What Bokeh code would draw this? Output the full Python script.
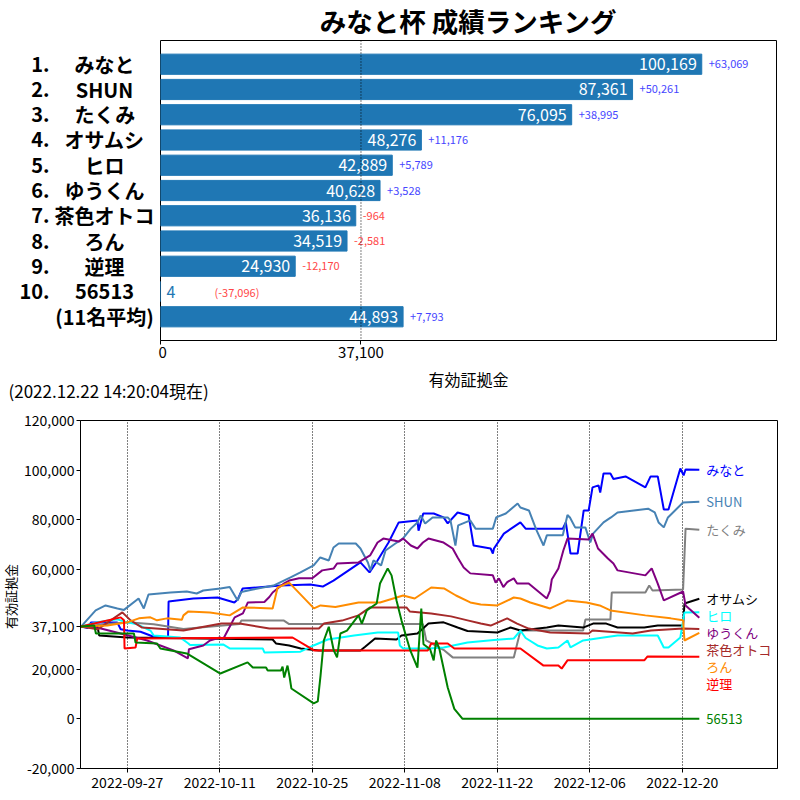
import math
import pandas as pd
from datetime import datetime
from bokeh.plotting import figure
from bokeh.models import (Range1d, FixedTicker, NumeralTickFormatter, DatetimeTickFormatter,
                          ColumnDataSource, Span)
from bokeh.layouts import column, row
from bokeh.embed import file_html
from bokeh.resources import INLINE
from bokeh.core.properties import value

FONT = "Noto Sans CJK JP"
TITLE = "みなと杯 成績ランキング"
STAMP = "(2022.12.22 14:20:04現在)"
AXIS_LABEL = "有効証拠金"
BASE = 37100

# ---------------- ranking (top chart) ----------------
ranks = ["1.", "2.", "3.", "4.", "5.", "6.", "7.", "8.", "9.", "10.", ""]
names = ["みなと", "SHUN", "たくみ", "オサムシ", "ヒロ", "ゆうくん", "茶色オトコ", "ろん", "逆理", "56513", "(11名平均)"]
balances = [100169, 87361, 76095, 48276, 42889, 40628, 36136, 34519, 24930, 4, 44893]
deltas = [63069, 50261, 38995, 11176, 5789, 3528, -964, -2581, -12170, -37096, 7793]

# ---------------- history (bottom chart) ----------------
MINATO = [("09-20 00",37100),("09-21 00",36500),("09-21 12",38700),("09-25 12",38700),("09-26 00",36000),("09-27 00",35500),("09-29 00",35000),("10-01 00",33000),("10-03 04",32800),("10-03 06",47200),("10-07 00",48400),("10-10 16",48800),("10-13 05",46800),("10-13 17",48000),("10-14 11",52400),("10-20 05",53600),("10-24 17",54000),("10-26 14",53200),("10-28 05",55600),("11-01 07",62900),("11-02 16",58900),("11-03 21",63700),("11-05 13",70900),("11-07 02",79000),("11-09 22",79800),("11-10 02",75700),("11-10 19",82600),("11-12 09",82600),("11-13 21",81000),("11-14 12",78600),("11-16 00",83000),("11-17 16",81800),("11-18 10",69700),("11-21 00",68500),("11-21 08",66500),("11-21 12",68500),("11-23 00",74500),("11-25 12",79000),("11-26 07",76500),("12-01 22",76500),("12-02 09",79000),("12-03 02",66500),("12-04 04",66500),("12-05 02",83800),("12-05 20",83800),("12-06 10",93100),("12-07 08",93900),("12-07 14",91000),("12-08 02",98700),("12-09 03",98700),("12-09 14",96500),("12-11 10",97500),("12-14 10",93100),("12-15 05",97500),("12-16 07",97500),("12-17 05",84200),("12-17 22",84200),("12-19 17",100700),("12-20 05",97900),("12-20 12",100300),("12-22 14",100169)]
SHUN = [("09-20 00",37100),("09-22 05",43600),("09-23 17",45600),("09-25 12",44400),("09-26 12",43800),("09-28 17",48400),("09-29 12",44400),("09-30 05",50000),("10-03 13",50800),("10-06 00",51200),("10-07 12",50400),("10-08 12",51600),("10-11 02",52400),("10-12 12",53000),("10-13 17",47600),("10-14 06",51000),("10-16 00",52000),("10-19 03",53600),("10-21 17",56900),("10-23 05",58900),("10-25 05",61700),("10-26 05",64900),("10-27 12",63700),("10-28 05",68900),("10-29 00",70500),("10-31 14",70500),("11-01 07",68500),("11-02 10",62900),("11-02 19",59700),("11-03 06",63700),("11-04 10",61700),("11-05 02",67700),("11-06 14",70500),("11-07 17",72500),("11-08 22",76500),("11-09 22",79000),("11-10 10",81800),("11-11 02",78600),("11-12 05",81000),("11-14 12",81000),("11-14 22",79800),("11-15 16",69700),("11-16 02",77800),("11-17 22",79800),("11-18 17",76500),("11-21 08",76500),("11-21 20",81000),("11-23 07",82600),("11-25 02",86600),("11-25 12",85000),("11-26 19",83800),("11-27 22",76000),("11-29 00",69700),("11-29 12",73800),("12-01 22",73800),("12-02 15",82000),("12-03 00",81000),("12-03 19",77000),("12-05 08",77000),("12-06 02",70900),("12-06 12",74500),("12-08 02",79000),("12-09 05",81000),("12-10 05",83000),("12-14 20",84500),("12-15 20",83000),("12-16 10",79000),("12-17 05",77000),("12-17 20",81000),("12-20 03",87000),("12-22 14",87361)]
TAKUMI = [("09-20 00",37100),("09-23 00",37800),("09-27 00",38800),("10-01 00",38000),("10-05 12",36100),("10-14 00",38100),("10-14 06",39500),("10-20 17",39500),("10-21 12",38100),("11-10 18",38100),("11-11 06",31500),("11-14 00",27500),("11-15 06",24700),("11-24 12",24700),("11-25 06",32700),("11-25 12",35500),("12-05 00",35500),("12-05 08",39900),("12-09 03",39900),("12-09 08",50800),("12-14 10",50800),("12-15 00",53600),("12-15 12",51600),("12-20 03",52000),("12-20 12",76500),("12-22 14",76095)]
OSAMUSHI = [("09-20 00",37100),("09-22 12",37000),("09-22 18",33500),("09-27 00",32700),("10-19 00",31900),("10-19 12",30300),("10-21 12",29500),("10-23 06",28300),("10-26 00",27500),("11-01 07",27500),("11-02 00",29000),("11-03 12",32300),("11-06 18",31900),("11-07 12",33500),("11-09 22",34300),("11-11 14",38300),("11-13 21",38800),("11-16 00",36700),("11-17 12",35300),("11-22 00",34700),("11-24 00",36700),("11-25 12",35500),("11-29 12",36700),("12-01 06",37500),("12-05 00",36700),("12-06 12",38300),("12-08 12",38300),("12-10 05",36700),("12-14 06",36700),("12-16 07",37500),("12-20 03",37500),("12-20 08",46400),("12-22 14",48276)]
HIRO = [("09-20 00",37100),("09-22 12",38800),("09-25 12",40000),("09-27 00",38800),("09-28 12",38000),("09-30 12",35500),("10-01 00",33500),("10-05 00",32700),("10-06 06",30300),("10-06 12",29700),("10-11 12",29900),("10-12 12",28300),("10-17 12",28300),("10-17 18",26700),("10-23 05",27000),("10-25 05",29500),("10-27 08",31900),("10-31 08",33500),("11-03 22",34700),("11-07 00",34700),("11-07 06",29500),("11-07 18",28300),("11-11 14",28300),("11-13 21",28700),("11-17 12",30700),("11-21 12",31700),("11-24 12",32300),("11-25 12",35500),("11-26 07",32500),("11-28 02",29500),("11-29 12",28300),("12-01 06",28700),("12-02 15",31500),("12-03 02",28700),("12-05 00",31500),("12-08 02",32700),("12-10 05",33500),("12-16 07",33500),("12-17 05",28700),("12-17 22",28700),("12-19 17",32700),("12-20 08",42800),("12-22 14",42889)]
YUUKUN = [("09-20 00",37100),("09-23 00",36300),("09-26 00",34300),("09-30 00",31500),("10-02 00",29500),("10-04 00",27500),("10-06 04",24300),("10-06 08",28000),("10-08 12",29500),("10-09 12",31500),("10-11 00",32700),("10-11 12",32000),("10-12 12",37000),("10-13 06",40800),("10-14 12",42400),("10-15 06",46800),("10-17 18",47000),("10-18 12",49000),("10-19 00",50800),("10-19 18",52400),("10-20 18",54500),("10-21 12",55600),("10-23 00",56500),("10-25 00",56500),("10-26 12",59700),("10-28 06",60500),("10-28 18",62500),("11-01 00",62900),("11-02 06",64900),("11-02 18",65700),("11-03 21",70900),("11-04 18",72500),("11-07 02",71300),("11-07 18",72500),("11-08 22",69700),("11-09 22",68500),("11-10 18",70900),("11-11 14",72500),("11-13 21",70900),("11-15 06",68500),("11-16 00",64900),("11-16 22",60900),("11-17 22",58500),("11-21 08",57700),("11-21 18",54800),("11-22 06",56500),("11-22 22",53000),("11-23 12",55000),("11-24 12",56500),("11-25 00",54400),("11-26 18",54400),("11-29 12",48400),("11-30 00",51600),("11-30 06",56000),("12-01 06",60500),("12-02 00",67700),("12-02 15",72500),("12-05 20",72100),("12-06 10",74500),("12-07 06",68500),("12-08 18",64500),("12-09 14",62500),("12-10 05",59700),("12-14 10",57700),("12-15 09",60500),("12-16 07",54400),("12-17 05",47600),("12-20 03",51200),("12-20 12",45600),("12-22 14",40628)]
CHAIRO = [("09-20 00",37100),("09-22 12",36000),("09-26 06",42800),("09-27 12",39600),("09-29 06",36700),("10-05 12",35500),("10-11 06",38300),("10-14 00",38300),("10-18 12",36300),("10-26 00",36300),("10-26 18",38300),("10-29 12",39500),("11-01 00",41600),("11-02 18",44800),("11-08 06",44800),("11-08 18",43200),("11-12 00",42400),("11-15 00",41200),("11-17 12",39600),("11-19 12",38300),("11-21 00",37500),("11-23 12",40400),("11-25 00",38300),("11-26 18",36300),("11-30 00",34700),("12-05 20",34300),("12-06 10",35500),("12-12 12",34300),("12-15 06",35500),("12-20 03",36300),("12-22 14",36136)]
RON = [("09-20 00",37100),("09-24 00",37500),("09-27 00",38800),("09-28 18",40400),("09-30 12",40800),("10-01 12",39600),("10-03 00",40400),("10-05 06",39800),("10-05 12",41600),("10-06 06",43200),("10-09 12",42800),("10-12 12",41600),("10-14 12",44800),("10-19 00",44400),("10-19 18",52800),("10-21 12",54800),("10-25 06",44400),("10-26 06",45600),("10-28 12",45000),("11-01 00",46800),("11-04 06",46800),("11-07 18",49600),("11-09 12",48400),("11-12 00",52800),("11-14 00",52400),("11-15 18",49600),("11-17 22",46800),("11-19 12",46000),("11-22 00",45600),("11-24 12",48800),("11-25 12",48400),("11-27 00",46800),("11-30 00",44400),("12-02 15",47600),("12-05 12",46800),("12-07 12",45600),("12-09 03",43600),("12-14 10",41600),("12-18 06",40400),("12-20 03",39600),("12-20 08",31500),("12-22 14",34519)]
GYAKURI = [("09-20 00",37100),("09-26 00",40800),("09-26 12",39600),("09-26 14",28300),("09-28 06",28700),("09-28 12",32300),("10-22 00",32700),("10-24 00",29500),("10-25 06",27500),("11-11 12",27500),("11-12 00",30300),("11-14 12",30300),("11-15 12",28300),("11-25 12",28300),("11-29 00",21400),("12-01 06",21400),("12-01 18",20200),("12-02 15",23500),("12-14 06",23500),("12-14 18",25100),("12-22 14",24930)]
G56513 = [("09-20 00",37100),("09-22 00",37500),("09-22 06",34300),("09-28 00",34300),("09-28 06",30700),("10-01 12",30300),("10-02 00",28300),("10-06 00",26300),("10-11 02",18200),("10-15 05",22700),("10-16 00",20600),("10-18 00",20600),("10-18 06",19400),("10-20 06",19400),("10-20 12",21000),("10-20 18",16600),("10-21 06",21400),("10-21 14",16600),("10-21 20",12200),("10-25 05",6200),("10-25 20",7000),("10-26 06",17400),("10-26 18",31500),("10-27 12",37000),("10-28 06",27500),("10-28 18",24700),("10-29 06",34300),("10-30 06",35500),("11-01 00",41600),("11-01 12",38300),("11-02 06",43600),("11-03 18",46400),("11-04 06",54400),("11-05 10",60500),("11-06 00",57700),("11-06 18",47600),("11-07 12",39600),("11-08 06",32700),("11-08 20",27500),("11-09 22",20600),("11-10 12",44300),("11-10 20",30000),("11-11 20",28000),("11-12 09",23500),("11-12 18",31500),("11-13 06",28000),("11-14 12",12600),("11-15 12",4000),("11-16 18",4),("12-22 14",4)]

series_names = ["みなと", "SHUN", "たくみ", "オサムシ", "ヒロ", "ゆうくん", "茶色オトコ", "ろん", "逆理", "56513"]
series_data = [MINATO, SHUN, TAKUMI, OSAMUSHI, HIRO, YUUKUN, CHAIRO, RON, GYAKURI, G56513]
series_colors = ["#0000ff", "#4682b4", "#808080", "#000000", "#00ffff", "#800080", "#a52a2a", "#ff8c00", "#ff0000", "#008000"]

tick_dates = ["2022-09-27", "2022-10-11", "2022-10-25", "2022-11-08", "2022-11-22", "2022-12-06", "2022-12-20"]
y_ticks = [-20000, 0, 20000, BASE, 60000, 80000, 100000, 120000]

BAR_COLOR = "#1f77b4"
POS_COLOR = "#4646ff"
NEG_COLOR = "#ff4646"


def helper(w, h, xr, yr):
    f = figure(width=w, height=h, output_backend="svg", toolbar_location=None, title=None,
               x_axis_type=None, y_axis_type=None, x_range=xr, y_range=yr,
               min_border_left=0, min_border_right=0, min_border_top=0, min_border_bottom=0)
    f.outline_line_color = None
    f.xgrid.visible = False
    f.ygrid.visible = False
    f.frame_align = False
    f.background_fill_color = "white"
    f.border_fill_color = "white"
    return f


# =============== title strip ===============
p_top = helper(800, 39, Range1d(0, 800), Range1d(39, 0))
p_top.text(x=[468], y=[19.5], text=[TITLE], text_align="center", text_baseline="middle",
           text_font=value(FONT), text_font_size="26.5px", text_font_style="bold", text_color="black")

# =============== bars ===============
n = len(names)
idx = list(range(n))
yr = Range1d(n - 1 + 0.94, -0.94)

p_lab = helper(158, 327, Range1d(0, 158), yr)
p_lab.min_border_top = 1
p_lab.min_border_bottom = 26
lab_src = ColumnDataSource(dict(xr=[49] * n, xn=[104] * n, y=idx, r=ranks, nm=names))
p_lab.text(x="xr", y="y", text="r", source=lab_src, text_align="right", text_baseline="middle",
           text_font=value(FONT), text_font_size="20px", text_font_style="bold", text_color="black")
p_lab.text(x="xn", y="y", text="nm", source=lab_src, text_align="center", text_baseline="middle",
           text_font=value(FONT), text_font_size="20px", text_font_style="bold", text_color="black")

p1 = figure(width=642, height=327, output_backend="svg", toolbar_location=None, title=None,
            x_range=Range1d(0, 114000), y_range=yr,
            min_border_left=2, min_border_right=24, min_border_top=1, min_border_bottom=26)
p1.frame_align = False
p1.outline_line_color = "black"
p1.outline_line_width = 1
p1.xgrid.visible = False
p1.ygrid.visible = False
p1.yaxis.visible = False
p1.background_fill_color = "white"
p1.border_fill_color = "white"

p1.hbar(y=idx, left=0, right=balances, height=0.8, color=BAR_COLOR)
p1.add_layout(Span(location=BASE, dimension="height", line_color="black", line_width=1, line_dash="1 2"))

big = max(balances)
ins = [i for i in idx if balances[i] >= 0.1 * big]
outs = [i for i in idx if balances[i] < 0.1 * big]

src_in = ColumnDataSource(dict(x=[balances[i] for i in ins], y=ins, t=[f"{balances[i]:,}" for i in ins],
                               d=[f"{deltas[i]:+,}" for i in ins],
                               c=[POS_COLOR if deltas[i] >= 0 else NEG_COLOR for i in ins]))
src_out = ColumnDataSource(dict(x=[balances[i] for i in outs], y=outs, t=[f"{balances[i]:,}" for i in outs],
                                d=[f"({deltas[i]:+,})" for i in outs],
                                c=[POS_COLOR if deltas[i] >= 0 else NEG_COLOR for i in outs]))

p1.text(x="x", y="y", text="t", source=src_in, text_color="white", text_align="right",
        text_baseline="middle", x_offset=-5, text_font=value(FONT), text_font_size="16px")
p1.text(x="x", y="y", text="d", source=src_in, text_color="c", text_align="left",
        text_baseline="middle", x_offset=7, text_font=value(FONT), text_font_size="11px")
p1.text(x="x", y="y", text="t", source=src_out, text_color=BAR_COLOR, text_align="left",
        text_baseline="middle", x_offset=6, text_font=value(FONT), text_font_size="16px")
p1.text(x="x", y="y", text="d", source=src_out, text_color="c", text_align="left",
        text_baseline="middle", x_offset=54, text_font=value(FONT), text_font_size="11px")

p1.xaxis.ticker = FixedTicker(ticks=[0, BASE])
p1.xaxis.formatter = NumeralTickFormatter(format="0,0")
p1.xaxis.minor_tick_line_color = None
p1.xaxis.major_tick_out = 4
p1.xaxis.major_tick_in = 0
p1.xaxis.major_label_standoff = 2
p1.xaxis.major_label_text_font = FONT
p1.xaxis.major_label_text_font_size = "15px"
p1.xaxis.major_label_text_color = "black"
p1.xaxis.axis_line_color = "black"

# =============== middle strip (axis label + timestamp) ===============
p_mid = helper(800, 38, Range1d(0, 800), Range1d(38, 0))
p_mid.text(x=[468], y=[12], text=[AXIS_LABEL], text_align="center", text_baseline="middle",
           text_font=value(FONT), text_font_size="16px", text_color="black")
p_mid.text(x=[8], y=[24], text=[STAMP], text_align="left", text_baseline="middle",
           text_font=value(FONT), text_font_size="17px", text_color="black")

# =============== history chart ===============
def to_dt(pairs):
    return pd.to_datetime(["2022-" + t for t, _ in pairs], format="%Y-%m-%d %H"), [v for _, v in pairs]

p_ylab = helper(20, 396, Range1d(0, 20), Range1d(396, 0))
p_ylab.text(x=[10], y=[192], text=[AXIS_LABEL], angle=math.pi / 2, text_align="center",
            text_baseline="middle", text_font=value(FONT), text_font_size="13px", text_color="black")

p2 = figure(width=780, height=396, output_backend="svg", toolbar_location=None, title=None,
            x_axis_type="datetime",
            x_range=Range1d(datetime(2022, 9, 19, 22), datetime(2023, 1, 3, 10)),
            y_range=Range1d(-20000, 120000),
            min_border_left=60, min_border_right=23, min_border_top=16, min_border_bottom=32)
p2.frame_align = False
p2.outline_line_color = "black"
p2.outline_line_width = 1
p2.background_fill_color = "white"
p2.border_fill_color = "white"

xt = FixedTicker(ticks=[pd.Timestamp(d).value / 1e6 for d in tick_dates])
p2.xaxis.ticker = xt
p2.xgrid.ticker = xt
p2.xgrid.grid_line_color = "black"
p2.xgrid.grid_line_dash = "1 2"
p2.xgrid.grid_line_width = 1
p2.ygrid.visible = False
fmt = "%Y-%m-%d"
p2.xaxis.formatter = DatetimeTickFormatter(days=fmt, months=fmt, hours=fmt, years=fmt, minutes=fmt)
p2.yaxis.ticker = FixedTicker(ticks=y_ticks)
p2.yaxis.formatter = NumeralTickFormatter(format="0,0")
for ax in (p2.xaxis, p2.yaxis):
    ax.minor_tick_line_color = None
    ax.major_tick_out = 4
    ax.major_tick_in = 0
    ax.major_label_text_font = FONT
    ax.major_label_text_font_size = "14px"
    ax.major_label_text_color = "black"
    ax.axis_line_color = "black"
p2.xaxis.major_label_standoff = 4
p2.yaxis.major_label_standoff = 2

finals = []
ends = []
for data, col in zip(series_data, series_colors):
    t, v = to_dt(data)
    p2.line(x=t, y=v, line_color=col, line_width=2)
    finals.append(v[-1])
    ends.append(t[-1])

GAP = 6840
order = sorted(range(len(finals)), key=lambda i: -finals[i])
lab_y = [0] * len(finals)
prev = None
for i in order:
    yv = finals[i] if prev is None else min(finals[i], prev - GAP)
    lab_y[i] = yv
    prev = yv

p2.text(x=ends, y=lab_y, text=series_names, text_color=series_colors, x_offset=7,
        text_align="left", text_baseline="middle", text_font=value(FONT), text_font_size="13px")

layout = column(p_top, row(p_lab, p1), p_mid, row(p_ylab, p2))
open("out.html", "w").write(file_html(layout, INLINE))
